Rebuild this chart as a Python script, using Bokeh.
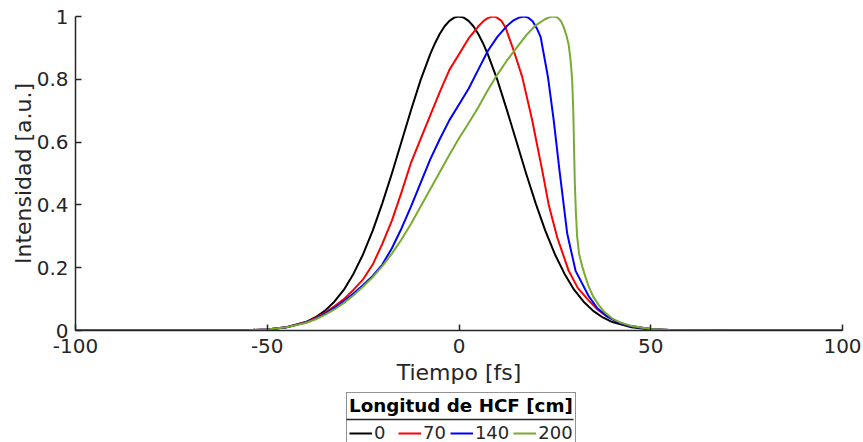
from bokeh.plotting import figure
from bokeh.layouts import column
from bokeh.models import (Legend, LegendItem, Range1d, FixedTicker,
                          PrintfTickFormatter)
from bokeh.embed import file_html
from bokeh.resources import INLINE

# Pulse intensity profiles after propagation through different HCF lengths
t_0 = [-100, -70, -60, -55, -50, -45, -40, -37.5, -35, -32.5, -30, -27.5, -25,
       -22.5, -20, -17.5, -15, -12.5, -10, -7.5, -6.25, -5, -3.75, -2.5, -1.25,
       0, 1.25, 2.5, 3.75, 5, 6.25, 7.5, 10, 12.5, 15, 17.5, 20, 22.5, 25,
       27.5, 30, 32.5, 35, 37.5, 40, 45, 50, 55, 60, 70, 100]
i_0 = [0, 0, 0.0003, 0.0011, 0.0035, 0.0102, 0.0268, 0.0415, 0.0625, 0.0918,
       0.130, 0.181, 0.243, 0.318, 0.405, 0.50, 0.601, 0.702, 0.798, 0.880,
       0.915, 0.945, 0.969, 0.986, 0.9965, 1.0, 0.9965, 0.986, 0.969, 0.945,
       0.915, 0.880, 0.798, 0.702, 0.601, 0.50, 0.405, 0.318, 0.243, 0.181,
       0.130, 0.0918, 0.0625, 0.0415, 0.0268, 0.0102, 0.0035, 0.0011, 0.0003,
       0, 0]

t_70 = [-100, -70, -60, -55, -50, -45, -40, -37.5, -35, -32.5, -30, -27.5, -25,
        -22.5, -20, -17.5, -15, -12.5, -10, -7.5, -5, -2.5, 0, 2.5, 5, 6.5,
        7.5, 8.6, 9.7, 11, 12.1, 14.3, 16.5, 19.1, 21.7, 23.4, 25.6, 28.6, 31,
        33.8, 36, 38.6, 41, 43, 45, 50, 55, 60, 70, 100]
i_70 = [0, 0, 0.0003, 0.001, 0.0035, 0.010, 0.026, 0.039, 0.056, 0.077, 0.100,
        0.130, 0.163, 0.21, 0.276, 0.35, 0.44, 0.535, 0.61, 0.685, 0.76, 0.83,
        0.88, 0.93, 0.968, 0.987, 0.995, 1.0, 0.998, 0.987, 0.966, 0.89,
        0.807, 0.669, 0.51, 0.40, 0.297, 0.19, 0.135, 0.096, 0.068, 0.045,
        0.03, 0.02, 0.014, 0.0045, 0.0014, 0.0004, 0, 0]

t_140 = [-100, -70, -60, -55, -50, -45, -40, -37.5, -35, -32.5, -30, -27.5, -25,
         -22.5, -20, -17.5, -15, -12.5, -10, -7.5, -5, -2.5, 0, 2.5, 5, 7.5, 10,
         12.5, 14, 15.5, 16.9, 18, 19.2, 20.3, 21.3, 23.2, 24.7, 26.2, 27,
         28.2, 30.4, 33.8, 36, 38.6, 41, 43, 45, 50, 55, 60, 70, 100]
i_140 = [0, 0, 0.0003, 0.001, 0.0035, 0.010, 0.025, 0.037, 0.053, 0.072, 0.094,
         0.118, 0.145, 0.174, 0.21, 0.262, 0.325, 0.395, 0.47, 0.545, 0.61,
         0.67, 0.72, 0.77, 0.83, 0.89, 0.935, 0.97, 0.986, 0.996, 1.0, 0.997,
         0.985, 0.962, 0.934, 0.807, 0.669, 0.51, 0.43, 0.31, 0.19, 0.11,
         0.072, 0.045, 0.029, 0.02, 0.013, 0.0045, 0.0014, 0.0004, 0, 0]

t_200 = [-100, -70, -60, -55, -50, -45, -40, -37.5, -35, -32.5, -30, -27.5, -25,
         -22.5, -20, -17.5, -15, -12.5, -10, -7.5, -5, -2.5, 0, 2.5, 5, 7.5, 10,
         12.5, 15, 17.5, 20, 22.5, 23.7, 24.7, 25.7, 26.6, 27.3, 28, 28.6, 29.1,
         29.5, 29.8, 30.0, 30.2, 30.5, 30.8, 31.3, 32.1, 33, 33.8, 35, 36.5, 38,
         40, 42, 45, 50, 55, 60, 70, 100]
i_200 = [0, 0, 0.0003, 0.001, 0.0035, 0.010, 0.024, 0.035, 0.05, 0.067, 0.088,
         0.112, 0.14, 0.17, 0.205, 0.245, 0.29, 0.34, 0.395, 0.45, 0.505, 0.56,
         0.612, 0.66, 0.71, 0.765, 0.815, 0.86, 0.90, 0.94, 0.972, 0.992,
         0.998, 1.0, 0.997, 0.985, 0.966, 0.94, 0.91, 0.86, 0.80, 0.70, 0.58,
         0.47, 0.37, 0.30, 0.245, 0.205, 0.17, 0.14, 0.108, 0.08, 0.058, 0.038,
         0.026, 0.014, 0.005, 0.0015, 0.0004, 0, 0]

lengths = ["0", "70", "140", "200"]
colors = ["#000000", "#ff0000", "#0000ff", "#77ac30"]
series = [(t_0, i_0), (t_70, i_70), (t_140, i_140), (t_200, i_200)]

x_ticks = [-100, -50, 0, 50, 100]
y_ticks = [0, 0.2, 0.4, 0.6, 0.8, 1]

FONT = "DejaVu Sans"
AX = "#262626"

# ---- main chart -------------------------------------------------------------
p = figure(width=863, height=388, output_backend="svg", toolbar_location=None,
           x_range=Range1d(-100, 100), y_range=Range1d(0, 1),
           min_border_left=75, min_border_right=21, min_border_top=16,
           min_border_bottom=58, background_fill_color="white",
           border_fill_color="white")
p.outline_line_color = None
p.grid.visible = False

for color, (tt, ii) in zip(colors, series):
    p.line(tt, ii, line_color=color, line_width=2, line_join="round")

for ax in (p.xaxis[0], p.yaxis[0]):
    ax.axis_line_color = AX
    ax.axis_line_width = 1.5
    ax.major_tick_line_color = AX
    ax.major_tick_line_width = 1.5
    ax.major_tick_in = 6
    ax.major_tick_out = 0
    ax.minor_tick_line_color = None
    ax.major_label_text_font = FONT
    ax.major_label_text_font_size = "20px"
    ax.major_label_text_color = AX
    ax.axis_label_text_font = FONT
    ax.axis_label_text_font_size = "22px"
    ax.axis_label_text_font_style = "normal"
    ax.axis_label_text_color = AX

p.xaxis.ticker = FixedTicker(ticks=x_ticks)
p.yaxis.ticker = FixedTicker(ticks=y_ticks)
p.xaxis.formatter = PrintfTickFormatter(format="%d")
p.yaxis.formatter = PrintfTickFormatter(format="%g")
p.xaxis.axis_label = "Tiempo [fs]"
p.yaxis.axis_label = "Intensidad [a.u.]"
p.xaxis.major_label_standoff = 8
p.yaxis.major_label_standoff = 7
p.xaxis.axis_label_standoff = 4
p.yaxis.axis_label_standoff = -2

# ---- legend strip under the chart (its frame lines up with the chart's) ----
# ranges in pixels of the strip's frame: 767 wide, 54 high
lg = figure(width=863, height=54, output_backend="svg", toolbar_location=None,
            x_range=Range1d(0, 767), y_range=Range1d(0, 54),
            x_axis_location=None, y_axis_location=None,
            min_border_left=75, min_border_right=21, min_border_top=0,
            min_border_bottom=0, background_fill_color="white",
            border_fill_color="white")
lg.outline_line_color = None
lg.grid.visible = False

# rule between the legend title and its entries (legend box is transparent)
lg.segment(x0=[271], y0=[23], x1=[498], y1=[23], line_color=AX,
           line_width=1.5)

# legend keys: line renderers whose points sit outside the strip's ranges
items = []
for name, color in zip(lengths, colors):
    key = lg.line(x=[900, 901], y=[90, 90], line_color=color, line_width=2)
    items.append(LegendItem(label=name, renderers=[key]))

legend = Legend(items=items, orientation="horizontal", location=(271, -4),
                title="Longitud de HCF [cm]")
legend.title_text_font = FONT
legend.title_text_font_size = "18.3px"
legend.title_text_font_style = "bold"
legend.title_text_color = "#000000"
legend.title_standoff = 6
legend.label_text_font = FONT
legend.label_text_font_size = "18px"
legend.label_text_color = AX
legend.label_height = 18
legend.glyph_width = 23
legend.glyph_height = 18
legend.label_standoff = 2
legend.spacing = 4
legend.padding = 2
legend.margin = 0
legend.border_line_color = AX
legend.border_line_width = 1.5
legend.background_fill_alpha = 0
lg.add_layout(legend, "center")

open("out.html", "w").write(file_html(column(p, lg, spacing=0), INLINE))
